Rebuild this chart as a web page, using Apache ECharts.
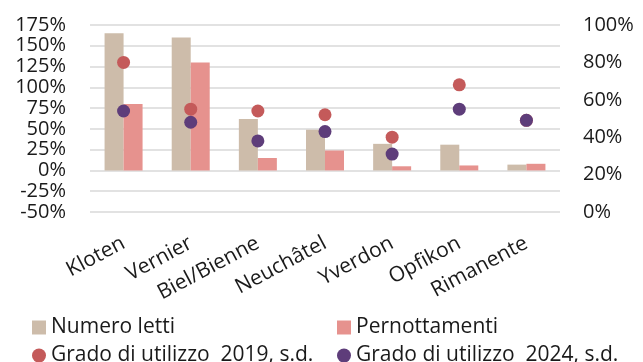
<!DOCTYPE html>
<html>
<head>
<meta charset="utf-8">
<script src="https://cdn.jsdelivr.net/npm/echarts@6/dist/echarts.min.js"></script>
<style>
  html, body { margin: 0; padding: 0; background: #fff; }
  #chart { width: 643px; height: 362px; }
</style>
</head>
<body>
<div id="chart"></div>
<script>
const categories = ['Kloten', 'Vernier', 'Biel/Bienne', 'Neuchâtel', 'Yverdon', 'Opfikon', 'Rimanente']
const numeroLetti = [165, 160, 62, 49, 32, 31, 7]
const pernottamenti = [80, 130, 15, 24, 5, 6, 8]
const utilizzo2019 = [80, 55, 54, 52, 40, 68, 49]
const utilizzo2024 = [54, 48, 38, 43, 31, 55, 49]

const font = 'Open Sans'
const textColor = '#1a1a1a'

const chart = echarts.init(document.getElementById('chart'))

const legendText = { fontFamily: font, fontSize: 21, color: textColor }

const option = {
  animation: false,
  grid: { left: 90, right: 83, top: 25, bottom: 150 },
  legend: [
    { left: 27, top: 312, itemWidth: 14, itemHeight: 14, icon: 'rect', textStyle: legendText, data: ['Numero letti'] },
    { left: 332, top: 312, itemWidth: 14, itemHeight: 14, icon: 'rect', textStyle: legendText, data: ['Pernottamenti'] },
    { left: 27, top: 340, itemWidth: 14, itemHeight: 14, icon: 'circle', textStyle: legendText, data: ['Grado di utilizzo  2019, s.d.'] },
    { left: 332, top: 340, itemWidth: 14, itemHeight: 14, icon: 'circle', textStyle: legendText, data: ['Grado di utilizzo  2024, s.d.'] }
  ],
  xAxis: {
    type: 'category',
    data: categories,
    axisLine: { show: false, onZero: false },
    axisTick: { show: false },
    axisLabel: {
      rotate: 28,
      margin: 30,
      interval: 0,
      fontFamily: font,
      fontSize: 21,
      color: textColor
    }
  },
  yAxis: [
    {
      type: 'value',
      min: -50,
      max: 175,
      interval: 25,
      axisLabel: {
        margin: 24,
        fontFamily: font,
        fontSize: 20,
        color: textColor,
        formatter: '{value}%'
      },
      splitLine: { lineStyle: { color: '#d9d9d9', width: 1.5 } }
    },
    {
      type: 'value',
      min: 0,
      max: 100,
      interval: 20,
      position: 'right',
      axisLabel: {
        margin: 23,
        fontFamily: font,
        fontSize: 20,
        color: textColor,
        formatter: '{value}%'
      },
      splitLine: { show: false }
    }
  ],
  series: [
    {
      name: 'Numero letti',
      type: 'bar',
      data: numeroLetti,
      barWidth: 19,
      barGap: '0%',
      itemStyle: { color: '#cdbcaa' }
    },
    {
      name: 'Pernottamenti',
      type: 'bar',
      data: pernottamenti,
      barWidth: 19,
      barGap: '0%',
      itemStyle: { color: '#e6928e' }
    },
    {
      name: 'Grado di utilizzo  2019, s.d.',
      type: 'scatter',
      yAxisIndex: 1,
      data: utilizzo2019,
      symbolSize: 13,
      itemStyle: { color: '#c45a5a', opacity: 1 }
    },
    {
      name: 'Grado di utilizzo  2024, s.d.',
      type: 'scatter',
      yAxisIndex: 1,
      data: utilizzo2024,
      symbolSize: 13,
      itemStyle: { color: '#5e3d7a', opacity: 1 }
    }
  ]
}

chart.setOption(option)
</script>
</body>
</html>
